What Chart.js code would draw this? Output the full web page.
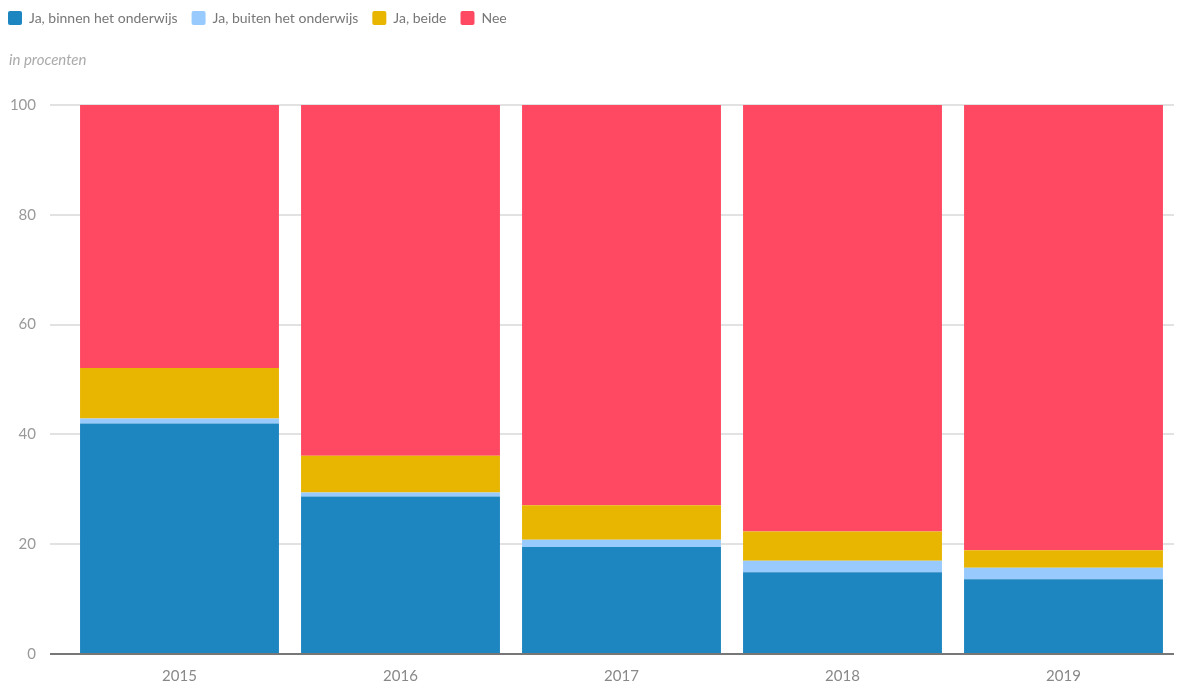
<!DOCTYPE html>
<html>
<head>
<meta charset="utf-8">
<script src="https://cdn.jsdelivr.net/npm/chart.js@4.4.1/dist/chart.umd.min.js"></script>
<style>
  html, body { margin: 0; padding: 0; background: #fff; }
  #wrap { width: 1182px; height: 685px; position: relative; }
</style>
</head>
<body>
<div id="wrap"><canvas id="chart"></canvas></div>
<script>
const years = ['2015', '2016', '2017', '2018', '2019'];
const binnen = [42.0, 28.7, 19.5, 14.9, 13.6];
const buiten = [0.9, 0.7, 1.3, 2.1, 2.1];
const beide = [9.2, 6.7, 6.3, 5.3, 3.2];
const nee = [47.9, 63.9, 72.9, 77.7, 81.1];
const yTicks = [0, 20, 40, 60, 80, 100];

const FONT = "'Lato', sans-serif";

// pull the legend back to the left edge, keep item spacing
const legendShift = {
    id: 'legendShift',
    afterLayout(chart) {
        if (chart.legend) chart.legend.left -= 15;
    }
};

new Chart(document.getElementById('chart'), {
    type: 'bar',
    data: {
        labels: years,
        datasets: [
            { label: 'Ja, binnen het onderwijs', data: binnen, backgroundColor: '#1D85BF' },
            { label: 'Ja, buiten het onderwijs', data: buiten, backgroundColor: '#98CAFD' },
            { label: 'Ja, beide', data: beide, backgroundColor: '#E8B500' },
            { label: 'Nee', data: nee, backgroundColor: '#FF4962' }
        ]
    },
    options: {
        responsive: true,
        maintainAspectRatio: false,
        animation: false,
        layout: { padding: { left: 9, right: 8, top: -3, bottom: 0 } },
        datasets: { bar: { barPercentage: 0.9, categoryPercentage: 1.0 } },
        plugins: {
            legend: {
                position: 'top',
                align: 'start',
                weight: 3000,
                labels: {
                    boxWidth: 14,
                    boxHeight: 14,
                    useBorderRadius: true,
                    borderRadius: 2,
                    padding: 14,
                    color: '#777',
                    font: { family: FONT, size: 14 }
                }
            },
            subtitle: {
                display: true,
                text: 'in procenten',
                align: 'start',
                color: '#aaa',
                font: { family: FONT, size: 15, style: 'italic', weight: 'normal' },
                padding: { top: 16, bottom: 36 }
            },
            tooltip: { enabled: false }
        },
        scales: {
            x: {
                stacked: true,
                grid: { display: false, drawTicks: false },
                border: { display: false },
                afterFit(scale) { scale.height = 31; },
                ticks: { color: '#888', padding: 13, font: { family: FONT, size: 15 } }
            },
            y: {
                stacked: true,
                min: 0,
                max: 100,
                afterBuildTicks(scale) {
                    scale.ticks = yTicks.map(v => ({ value: v }));
                },
                afterFit(scale) { scale.width = 60; },
                border: { display: false },
                grid: {
                    tickLength: 19,
                    color: ctx => ctx.tick && ctx.tick.value === 0 ? '#777' : '#e2e2e2',
                    lineWidth: 2
                },
                ticks: { color: '#999', padding: 14, font: { family: FONT, size: 15 } }
            }
        }
    },
    plugins: [legendShift]
});
</script>
</body>
</html>
